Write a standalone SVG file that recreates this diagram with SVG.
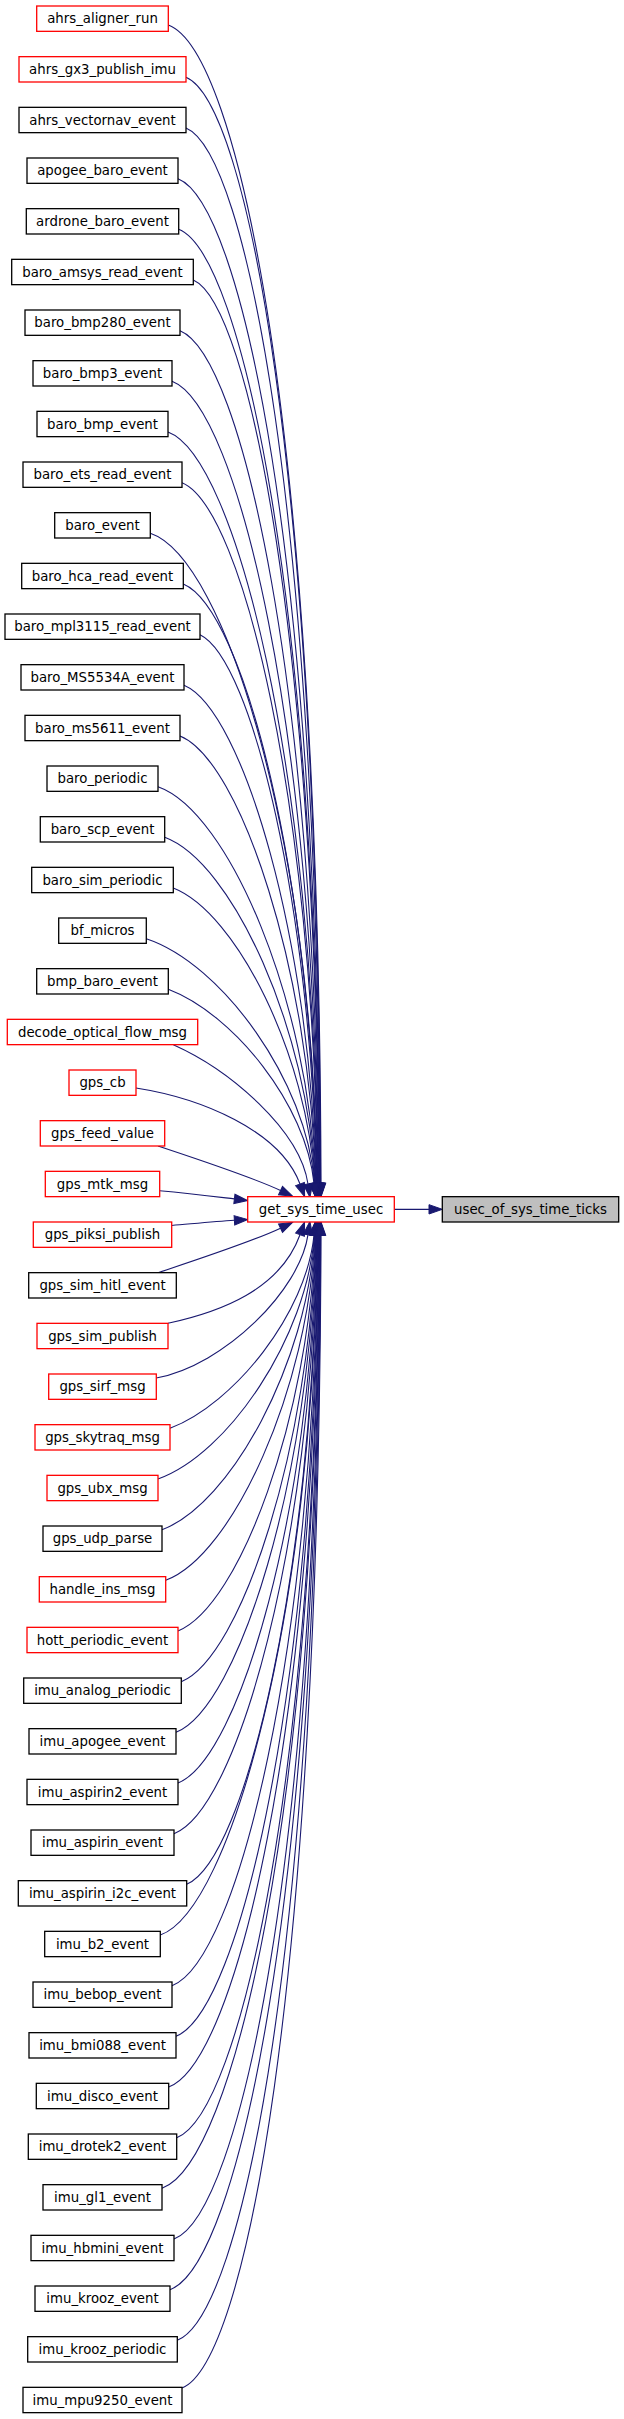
<svg xmlns="http://www.w3.org/2000/svg" width="624" height="2419" viewBox="0 0 624 2419">
<style>
.n rect{fill:#fff;stroke:#000;stroke-width:1.3}
.n.r rect{stroke:#f00}
.n.root rect{fill:#bfbfbf}
text{font-family:"DejaVu Sans","Liberation Sans",sans-serif;font-size:13.3px;text-anchor:middle;fill:#000}
.e path{fill:none;stroke:#191970;stroke-width:1.1;marker-end:url(#ah)}
</style>
<defs>
<marker id="ah" markerUnits="userSpaceOnUse" markerWidth="14" markerHeight="10" refX="0" refY="5" viewBox="0 0 14 10" orient="auto" overflow="visible">
<path d="M0,0.33 L13.33,5 L0,9.67 Z" fill="#191970" stroke="#191970" stroke-width="1"/>
</marker>
</defs>
<rect x="0" y="0" width="624" height="2419" fill="#fff"/>
<g id="edges" class="e">
<path d="M168.3,25 C237,50 319,418.8 321,1183.3"/>
<path d="M186,77.3 C246.6,102.3 318.3,468.3 320.6,1183.3"/>
<path d="M186,128 C246.4,153 317.7,515.3 320.3,1183.3"/>
<path d="M178,178.7 C241.9,203.7 317,561 319.9,1183.3"/>
<path d="M178.7,229.3 C242.1,254.3 316.4,605.2 319.6,1183.3"/>
<path d="M193.3,280 C250,305 315.7,648.1 319.2,1183.3"/>
<path d="M180,330.7 C242.5,355.7 315,689.6 318.8,1183.3"/>
<path d="M172,381.3 C237.9,406.3 314.3,729.8 318.4,1183.3"/>
<path d="M168,432 C235.5,457 313.7,768.6 318.1,1183.3"/>
<path d="M182,482.7 C243.1,507.7 313,806 317.7,1183.3"/>
<path d="M150.3,533.3 C225.5,558.3 312.3,842.1 317.3,1183.3"/>
<path d="M183.3,584 C243.5,609 311.7,876.8 317,1183.3"/>
<path d="M200,634.7 C252.5,659.7 311,910.1 316.6,1183.3"/>
<path d="M184,685.3 C243.5,710.3 310.3,942 316.2,1183.3"/>
<path d="M180,736 C241.2,761 309.7,972.6 315.9,1183.3"/>
<path d="M158,786.7 C228.9,811.7 309,1001.9 315.5,1183.3"/>
<path d="M164.7,837.3 C232.4,862.3 308.3,1029.7 315.1,1183.3"/>
<path d="M173.3,888 C236.9,913 307.6,1056.2 314.7,1183.3"/>
<path d="M146.3,938.7 C221.9,963.7 307,1081.3 314.4,1183.3"/>
<path d="M168.3,989.3 C233.9,1014.3 306.3,1105 314,1183.3"/>
<path d="M173.3,1044.7 C230,1070 300,1130 308,1184"/>
<path d="M136,1088 C200,1098 280,1130 300,1184"/>
<path d="M158,1146 C200,1160 252,1177 280.5,1190.5"/>
<path d="M159.7,1190.7 C190,1193.5 210,1196 234.4,1198.9"/>
<path d="M171.7,1225.5 C195,1223.5 215,1221.5 234.4,1220.3"/>
<path d="M158,1272.7 C200,1258.7 252,1241.7 280.5,1228.2"/>
<path d="M168,1323.3 C220,1312 280,1290 300,1234.7"/>
<path d="M156.3,1378 C225,1365 300,1290 308,1234.7"/>
<path d="M170,1428.3 C234.8,1403.3 306.3,1313.2 314,1235.3"/>
<path d="M158,1479 C228.4,1454 307,1336.9 314.4,1235.3"/>
<path d="M162,1529.7 C230.7,1504.7 307.6,1362 314.7,1235.3"/>
<path d="M165.7,1580.3 C232.9,1555.3 308.3,1388.5 315.1,1235.3"/>
<path d="M178,1631 C239.9,1606 309,1416.3 315.5,1235.3"/>
<path d="M181.3,1681.7 C241.9,1656.7 309.7,1445.6 315.9,1235.3"/>
<path d="M176,1732.3 C239.1,1707.3 310.3,1476.1 316.2,1235.3"/>
<path d="M178,1783 C240.4,1758 311,1508.1 316.6,1235.3"/>
<path d="M174,1833.7 C238.4,1808.7 311.7,1541.4 317,1235.3"/>
<path d="M186.7,1884.3 C245.5,1859.3 312.3,1576 317.3,1235.3"/>
<path d="M160.3,1935 C231.1,1910 313,1612.1 317.7,1235.3"/>
<path d="M172,1985.7 C237.7,1960.7 313.7,1649.5 318.1,1235.3"/>
<path d="M176,2036.3 C240.1,2011.3 314.3,1688.3 318.4,1235.3"/>
<path d="M168.7,2087 C236.2,2062 315,1728.4 318.8,1235.3"/>
<path d="M176.7,2137.7 C240.8,2112.7 315.7,1770 319.2,1235.3"/>
<path d="M162,2188.3 C232.9,2163.3 316.4,1812.8 319.6,1235.3"/>
<path d="M174,2239 C239.7,2214 317,1857.1 319.9,1235.3"/>
<path d="M170,2289.7 C237.6,2264.7 317.7,1902.7 320.3,1235.3"/>
<path d="M177.3,2340.3 C241.8,2315.3 318.3,1949.7 320.6,1235.3"/>
<path d="M182,2388 C244.6,2363 319,1996.1 321,1235.3"/>
<path d="M394.3,1209.33 L429,1209.33"/>
</g>
<g id="node_ahrs_aligner_run" class="n r"><rect x="36.7" y="6" width="131.6" height="25.33"/><text x="102.5" y="23.17">ahrs_aligner_run</text></g>
<g id="node_ahrs_gx3_publish_imu" class="n r"><rect x="19" y="56.67" width="167" height="25.33"/><text x="102.5" y="73.84">ahrs_gx3_publish_imu</text></g>
<g id="node_ahrs_vectornav_event" class="n"><rect x="19" y="107.33" width="167" height="25.33"/><text x="102.5" y="124.5">ahrs_vectornav_event</text></g>
<g id="node_apogee_baro_event" class="n"><rect x="27" y="158" width="151" height="25.33"/><text x="102.5" y="175.17">apogee_baro_event</text></g>
<g id="node_ardrone_baro_event" class="n"><rect x="26.3" y="208.67" width="152.4" height="25.33"/><text x="102.5" y="225.84">ardrone_baro_event</text></g>
<g id="node_baro_amsys_read_event" class="n"><rect x="11.7" y="259.33" width="181.6" height="25.33"/><text x="102.5" y="276.5">baro_amsys_read_event</text></g>
<g id="node_baro_bmp280_event" class="n"><rect x="25" y="310" width="155" height="25.33"/><text x="102.5" y="327.17">baro_bmp280_event</text></g>
<g id="node_baro_bmp3_event" class="n"><rect x="33" y="360.67" width="139" height="25.33"/><text x="102.5" y="377.84">baro_bmp3_event</text></g>
<g id="node_baro_bmp_event" class="n"><rect x="37" y="411.33" width="131" height="25.33"/><text x="102.5" y="428.5">baro_bmp_event</text></g>
<g id="node_baro_ets_read_event" class="n"><rect x="23" y="462" width="159" height="25.33"/><text x="102.5" y="479.17">baro_ets_read_event</text></g>
<g id="node_baro_event" class="n"><rect x="54.7" y="512.67" width="95.6" height="25.33"/><text x="102.5" y="529.84">baro_event</text></g>
<g id="node_baro_hca_read_event" class="n"><rect x="21.7" y="563.33" width="161.6" height="25.33"/><text x="102.5" y="580.5">baro_hca_read_event</text></g>
<g id="node_baro_mpl3115_read_event" class="n"><rect x="5" y="614" width="195" height="25.33"/><text x="102.5" y="631.17">baro_mpl3115_read_event</text></g>
<g id="node_baro_MS5534A_event" class="n"><rect x="21" y="664.67" width="163" height="25.33"/><text x="102.5" y="681.84">baro_MS5534A_event</text></g>
<g id="node_baro_ms5611_event" class="n"><rect x="25" y="715.33" width="155" height="25.33"/><text x="102.5" y="732.5">baro_ms5611_event</text></g>
<g id="node_baro_periodic" class="n"><rect x="47" y="766" width="111" height="25.33"/><text x="102.5" y="783.17">baro_periodic</text></g>
<g id="node_baro_scp_event" class="n"><rect x="40.3" y="816.67" width="124.4" height="25.33"/><text x="102.5" y="833.84">baro_scp_event</text></g>
<g id="node_baro_sim_periodic" class="n"><rect x="31.7" y="867.33" width="141.6" height="25.33"/><text x="102.5" y="884.5">baro_sim_periodic</text></g>
<g id="node_bf_micros" class="n"><rect x="58.7" y="918" width="87.6" height="25.33"/><text x="102.5" y="935.17">bf_micros</text></g>
<g id="node_bmp_baro_event" class="n"><rect x="36.7" y="968.67" width="131.6" height="25.33"/><text x="102.5" y="985.84">bmp_baro_event</text></g>
<g id="node_decode_optical_flow_msg" class="n r"><rect x="7.3" y="1019.33" width="190.4" height="25.33"/><text x="102.5" y="1036.5">decode_optical_flow_msg</text></g>
<g id="node_gps_cb" class="n r"><rect x="69" y="1070" width="67" height="25.33"/><text x="102.5" y="1087.17">gps_cb</text></g>
<g id="node_gps_feed_value" class="n r"><rect x="40.3" y="1120.67" width="124.4" height="25.33"/><text x="102.5" y="1137.84">gps_feed_value</text></g>
<g id="node_gps_mtk_msg" class="n r"><rect x="45.3" y="1171.33" width="114.4" height="25.33"/><text x="102.5" y="1188.5">gps_mtk_msg</text></g>
<g id="node_gps_piksi_publish" class="n r"><rect x="33.3" y="1222" width="138.4" height="25.33"/><text x="102.5" y="1239.17">gps_piksi_publish</text></g>
<g id="node_gps_sim_hitl_event" class="n"><rect x="28.7" y="1272.67" width="147.6" height="25.33"/><text x="102.5" y="1289.84">gps_sim_hitl_event</text></g>
<g id="node_gps_sim_publish" class="n r"><rect x="37" y="1323.33" width="131" height="25.33"/><text x="102.5" y="1340.5">gps_sim_publish</text></g>
<g id="node_gps_sirf_msg" class="n r"><rect x="48.7" y="1374" width="107.6" height="25.33"/><text x="102.5" y="1391.17">gps_sirf_msg</text></g>
<g id="node_gps_skytraq_msg" class="n r"><rect x="35" y="1424.67" width="135" height="25.33"/><text x="102.5" y="1441.84">gps_skytraq_msg</text></g>
<g id="node_gps_ubx_msg" class="n r"><rect x="47" y="1475.33" width="111" height="25.33"/><text x="102.5" y="1492.5">gps_ubx_msg</text></g>
<g id="node_gps_udp_parse" class="n"><rect x="43" y="1526" width="119" height="25.33"/><text x="102.5" y="1543.17">gps_udp_parse</text></g>
<g id="node_handle_ins_msg" class="n r"><rect x="39.3" y="1576.67" width="126.4" height="25.33"/><text x="102.5" y="1593.84">handle_ins_msg</text></g>
<g id="node_hott_periodic_event" class="n r"><rect x="27" y="1627.33" width="151" height="25.33"/><text x="102.5" y="1644.5">hott_periodic_event</text></g>
<g id="node_imu_analog_periodic" class="n"><rect x="23.7" y="1678" width="157.6" height="25.33"/><text x="102.5" y="1695.17">imu_analog_periodic</text></g>
<g id="node_imu_apogee_event" class="n"><rect x="29" y="1728.67" width="147" height="25.33"/><text x="102.5" y="1745.84">imu_apogee_event</text></g>
<g id="node_imu_aspirin2_event" class="n"><rect x="27" y="1779.33" width="151" height="25.33"/><text x="102.5" y="1796.5">imu_aspirin2_event</text></g>
<g id="node_imu_aspirin_event" class="n"><rect x="31" y="1830" width="143" height="25.33"/><text x="102.5" y="1847.17">imu_aspirin_event</text></g>
<g id="node_imu_aspirin_i2c_event" class="n"><rect x="18.3" y="1880.67" width="168.4" height="25.33"/><text x="102.5" y="1897.84">imu_aspirin_i2c_event</text></g>
<g id="node_imu_b2_event" class="n"><rect x="44.7" y="1931.33" width="115.6" height="25.33"/><text x="102.5" y="1948.5">imu_b2_event</text></g>
<g id="node_imu_bebop_event" class="n"><rect x="33" y="1982" width="139" height="25.33"/><text x="102.5" y="1999.17">imu_bebop_event</text></g>
<g id="node_imu_bmi088_event" class="n"><rect x="29" y="2032.67" width="147" height="25.33"/><text x="102.5" y="2049.84">imu_bmi088_event</text></g>
<g id="node_imu_disco_event" class="n"><rect x="36.3" y="2083.33" width="132.4" height="25.33"/><text x="102.5" y="2100.5">imu_disco_event</text></g>
<g id="node_imu_drotek2_event" class="n"><rect x="28.3" y="2134" width="148.4" height="25.33"/><text x="102.5" y="2151.17">imu_drotek2_event</text></g>
<g id="node_imu_gl1_event" class="n"><rect x="43" y="2184.67" width="119" height="25.33"/><text x="102.5" y="2201.84">imu_gl1_event</text></g>
<g id="node_imu_hbmini_event" class="n"><rect x="31" y="2235.33" width="143" height="25.33"/><text x="102.5" y="2252.5">imu_hbmini_event</text></g>
<g id="node_imu_krooz_event" class="n"><rect x="35" y="2286" width="135" height="25.33"/><text x="102.5" y="2303.17">imu_krooz_event</text></g>
<g id="node_imu_krooz_periodic" class="n"><rect x="27.7" y="2336.67" width="149.6" height="25.33"/><text x="102.5" y="2353.84">imu_krooz_periodic</text></g>
<g id="node_imu_mpu9250_event" class="n"><rect x="23" y="2387.33" width="159" height="25.33"/><text x="102.5" y="2404.5">imu_mpu9250_event</text></g>
<g id="node_get_sys_time_usec" class="n r"><rect x="247.7" y="1196.67" width="146.6" height="25.33"/><text x="321" y="1213.84">get_sys_time_usec</text></g>
<g id="node_usec_of_sys_time_ticks" class="n root"><rect x="442.3" y="1196.67" width="176.4" height="25.33"/><text x="530.5" y="1213.84">usec_of_sys_time_ticks</text></g>
</svg>
